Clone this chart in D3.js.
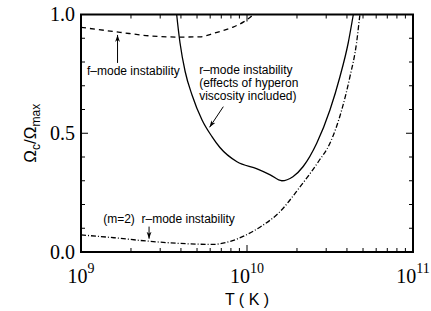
<!DOCTYPE html>
<html>
<head>
<meta charset="utf-8">
<script src="https://cdn.jsdelivr.net/npm/d3@7"></script>
<style>
  body { margin: 0; background: #fff; }
  svg { display: block; }
</style>
</head>
<body>
<div id="plot"></div>
<script>
// Chart size
const width = 431;
const height = 311;
const margin = { top: 14.5, right: 18, bottom: 59, left: 81 };

// f-mode instability curve (dashed)
const fModeT = [1.0e9, 1.72e9, 2.6e9, 3.95e9, 5.2e9, 6.4e9, 8.1e9, 9.6e9, 1.09e10, 1.26e10];
const fModeOmega = [0.946, 0.925, 0.91, 0.905, 0.906, 0.922, 0.945, 0.97, 1.0, 1.06];

// r-mode instability with hyperon viscosity (solid)
const rModeT = [3.55e9, 3.77e9, 3.95e9, 4.24e9, 4.67e9, 5.36e9, 6.15e9, 6.87e9, 8.7e9, 1.15e10,
  1.38e10, 1.62e10, 1.89e10, 2.18e10, 2.63e10, 3.16e10, 3.63e10, 4.07e10, 4.37e10, 4.68e10];
const rModeOmega = [1.2, 1.0, 0.88, 0.76, 0.66, 0.556, 0.486, 0.44, 0.38, 0.35,
  0.325, 0.30, 0.317, 0.36, 0.458, 0.598, 0.738, 0.88, 1.0, 1.12];

// (m=2) r-mode instability (dash-dot)
const m2T = [1.0e9, 1.58e9, 2.5e9, 3.98e9, 6.24e9, 7.94e9, 9.77e9, 1.23e10, 1.55e10, 2.09e10,
  2.69e10, 3.16e10, 3.72e10, 4.17e10, 4.57e10, 4.79e10, 5.0e10];
const m2Omega = [0.072, 0.06, 0.046, 0.036, 0.032, 0.045, 0.07, 0.11, 0.164, 0.275,
  0.38, 0.458, 0.598, 0.738, 0.88, 1.0, 1.1];

// axis ticks
const xMajor = [1e9, 1e10, 1e11];
const xExponents = ["9", "10", "11"];
const yMajor = [0.0, 0.5, 1.0];
const yMajorLabels = ["0.0", "0.5", "1.0"];
const yMinor = [0.1, 0.2, 0.3, 0.4, 0.6, 0.7, 0.8, 0.9];

// annotations (text position in T / Omega, arrow from -> to)
const labels = [
  { lines: ["f\u2013mode instability"], T: 1.087e9, v: 0.745 },
  { lines: ["r\u2013mode instability", "(effects of hyperon", "viscosity included)"], T: 5.15e9, v: 0.748 },
  { lines: ["(m=2)\u00A0 r\u2013mode instability"], T: 1.36e9, v: 0.122 }
];
const arrows = [
  { T1: 1.66e9, v1: 0.796, T2: 1.66e9, v2: 0.914 },
  { T1: 7.2e9, v1: 0.612, T2: 5.95e9, v2: 0.525 },
  { T1: 2.57e9, v1: 0.107, T2: 2.57e9, v2: 0.056 }
];

const svg = d3.select("#plot").append("svg")
  .attr("width", width)
  .attr("height", height);

const x = d3.scaleLog()
  .domain([1e9, 1e11])
  .range([margin.left, width - margin.right]);

const y = d3.scaleLinear()
  .domain([0, 1])
  .range([height - margin.bottom, margin.top]);

const x0 = x.range()[0], x1 = x.range()[1];
const y0 = y.range()[0], y1 = y.range()[1];

svg.append("defs").append("clipPath")
  .attr("id", "clip")
  .append("rect")
  .attr("x", x0).attr("y", y1)
  .attr("width", x1 - x0).attr("height", y0 - y1);

svg.select("defs").append("marker")
  .attr("id", "head")
  .attr("viewBox", "0 0 10 10")
  .attr("refX", 10).attr("refY", 5)
  .attr("markerWidth", 7).attr("markerHeight", 7)
  .attr("markerUnits", "userSpaceOnUse")
  .attr("orient", "auto")
  .append("path")
  .attr("d", "M0,1.5 L10,5 L0,8.5 L3,5 Z")
  .attr("fill", "#000");

// curves
const line = d3.line()
  .x(d => x(d[0]))
  .y(d => y(d[1]))
  .curve(d3.curveMonotoneX);

const curves = [
  { T: fModeT, v: fModeOmega, dash: "5,4" },
  { T: rModeT, v: rModeOmega, dash: null },
  { T: m2T, v: m2Omega, dash: "5,2,1,2" }
];

const plotG = svg.append("g").attr("clip-path", "url(#clip)");
curves.forEach(c => {
  plotG.append("path")
    .datum(c.T.map((t, i) => [t, c.v[i]]))
    .attr("d", line)
    .attr("fill", "none")
    .attr("stroke", "#000")
    .attr("stroke-width", 1.3)
    .attr("stroke-dasharray", c.dash);
});

// ticks: inward, on all four sides
const xMinor = [];
for (let e = 9; e < 11; e++) {
  for (let k = 2; k <= 9; k++) xMinor.push(k * Math.pow(10, e));
}

const tickG = svg.append("g").attr("stroke", "#000").attr("stroke-width", 1);
xMinor.forEach(t => {
  tickG.append("line").attr("x1", x(t)).attr("x2", x(t)).attr("y1", y0).attr("y2", y0 - 4);
  tickG.append("line").attr("x1", x(t)).attr("x2", x(t)).attr("y1", y1).attr("y2", y1 + 4);
});
xMajor.forEach(t => {
  tickG.append("line").attr("x1", x(t)).attr("x2", x(t)).attr("y1", y0).attr("y2", y0 - 7);
  tickG.append("line").attr("x1", x(t)).attr("x2", x(t)).attr("y1", y1).attr("y2", y1 + 7);
});
yMinor.forEach(v => {
  tickG.append("line").attr("x1", x0).attr("x2", x0 + 4).attr("y1", y(v)).attr("y2", y(v));
  tickG.append("line").attr("x1", x1).attr("x2", x1 - 4).attr("y1", y(v)).attr("y2", y(v));
});
yMajor.forEach(v => {
  tickG.append("line").attr("x1", x0).attr("x2", x0 + 7).attr("y1", y(v)).attr("y2", y(v));
  tickG.append("line").attr("x1", x1).attr("x2", x1 - 7).attr("y1", y(v)).attr("y2", y(v));
});

// frame
svg.append("rect")
  .attr("x", x0).attr("y", y1)
  .attr("width", x1 - x0).attr("height", y0 - y1)
  .attr("fill", "none")
  .attr("stroke", "#000")
  .attr("stroke-width", 2);

// tick labels
svg.selectAll(".ylab")
  .data(yMajor)
  .enter().append("text")
  .attr("class", "ylab")
  .attr("x", x0 - 6)
  .attr("y", d => y(d) + 6.5)
  .attr("text-anchor", "end")
  .style("font-family", "'Liberation Serif', 'Times New Roman', serif")
  .style("font-size", "20px")
  .text((d, i) => yMajorLabels[i]);

xMajor.forEach((t, i) => {
  const lab = svg.append("text")
    .attr("x", x(t))
    .attr("y", y0 + 31)
    .attr("text-anchor", "middle")
    .style("font-family", "'Liberation Serif', 'Times New Roman', serif")
    .style("font-size", "20px");
  lab.append("tspan").text("10");
  lab.append("tspan").attr("dy", -10).style("font-size", "14px").text(xExponents[i]);
});

// axis titles
svg.append("text")
  .attr("x", (x0 + x1) / 2)
  .attr("y", 305)
  .attr("text-anchor", "middle")
  .style("font-family", "'Liberation Sans', Arial, sans-serif")
  .style("font-size", "16px")
  .text("T ( K )");

const yt = svg.append("text")
  .attr("transform", `translate(36, ${(y0 + y1) / 2}) rotate(-90)`)
  .attr("text-anchor", "middle")
  .style("font-family", "'Liberation Sans', Arial, sans-serif")
  .style("font-size", "17px");
yt.append("tspan").text("\u03A9");
yt.append("tspan").attr("dy", 4).style("font-size", "12px").text("c");
yt.append("tspan").attr("dy", -4).text("/\u03A9");
yt.append("tspan").attr("dy", 4).style("font-size", "12px").text("max");

// annotations
labels.forEach(l => {
  const t = svg.append("text")
    .attr("x", x(l.T))
    .attr("y", y(l.v))
    .style("font-family", "'Liberation Sans', Arial, sans-serif")
    .style("font-size", "12px");
  l.lines.forEach((s, i) => {
    t.append("tspan").attr("x", x(l.T)).attr("dy", i === 0 ? 0 : 13).text(s);
  });
});

arrows.forEach(a => {
  svg.append("line")
    .attr("x1", x(a.T1)).attr("y1", y(a.v1))
    .attr("x2", x(a.T2)).attr("y2", y(a.v2))
    .attr("stroke", "#000")
    .attr("stroke-width", 1)
    .attr("marker-end", "url(#head)");
});
</script>
</body>
</html>
